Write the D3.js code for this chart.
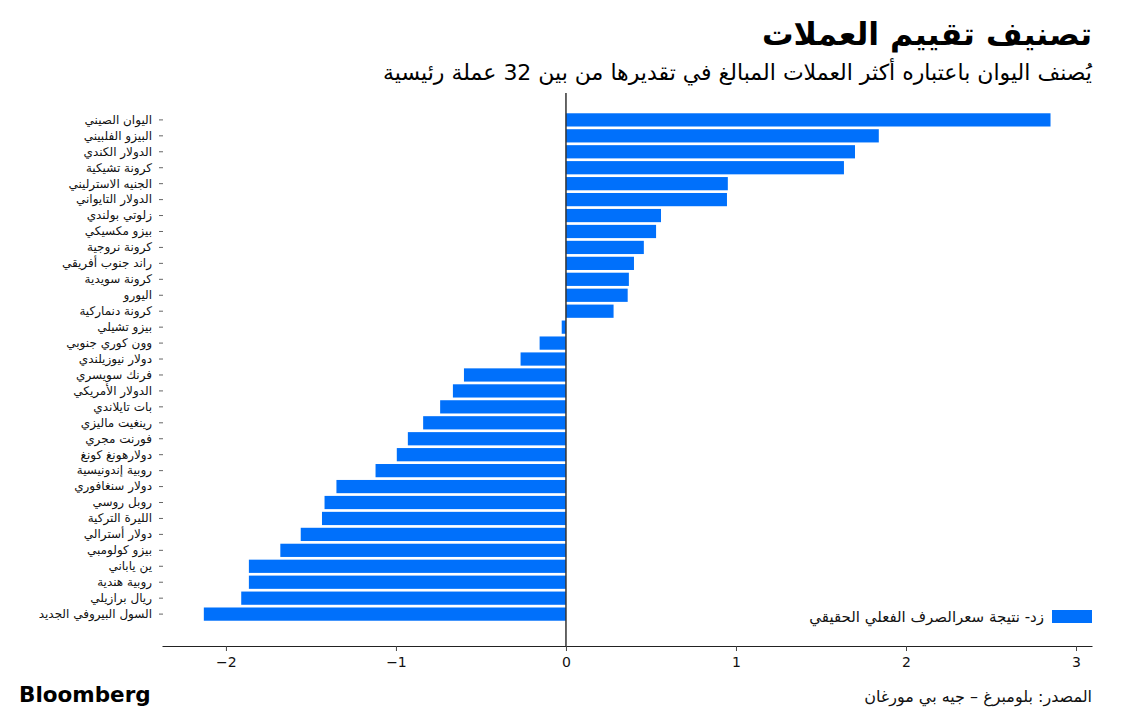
<!DOCTYPE html>
<html lang="ar">
<head>
<meta charset="utf-8">
<script src="https://cdn.jsdelivr.net/npm/d3@7"></script>
<style>
  html, body { margin: 0; padding: 0; background: #fff; }
  svg { display: block; }
  text { font-family: "DejaVu Sans", "Noto Sans", sans-serif; }
</style>
</head>
<body>
<svg id="chart" width="1132" height="716"></svg>
<script>
const categories = [
  "اليوان الصيني", "البيزو الفلبيني", "الدولار الكندي", "كرونة تشيكية",
  "الجنيه الاسترليني", "الدولار التايواني", "زلوتي بولندي", "بيزو مكسيكي",
  "كرونة نروجية", "راند جنوب أفريقي", "كرونة سويدية", "اليورو",
  "كرونة دنماركية", "بيزو تشيلي", "وون كوري جنوبي", "دولار نيوزيلندي",
  "فرنك سويسري", "الدولار الأمريكي", "بات تايلاندي", "رينغيت ماليزي",
  "فورنت مجري", "دولارهونغ كونغ", "روبية إندونيسية", "دولار سنغافوري",
  "روبل روسي", "الليرة التركية", "دولار أسترالي", "بيزو كولومبي",
  "ين ياباني", "روبية هندية", "ريال برازيلي", "السول البيروفي الجديد"
];
const values = [
  2.85, 1.84, 1.70, 1.635,
  0.952, 0.947, 0.559, 0.53,
  0.458, 0.40, 0.37, 0.363,
  0.28, -0.025, -0.155, -0.267,
  -0.60, -0.665, -0.74, -0.84,
  -0.93, -0.995, -1.12, -1.35,
  -1.42, -1.435, -1.56, -1.68,
  -1.865, -1.865, -1.91, -2.13
];
const xTicks = [-2, -1, 0, 1, 2, 3];
const title = "تصنيف تقييم العملات";
const subtitle = "يُصنف اليوان باعتباره أكثر العملات المبالغ في تقديرها من بين 32 عملة رئيسية";
const legendLabel = "زد- نتيجة سعرالصرف الفعلي الحقيقي";
const source = "المصدر: بلومبرغ – جيه بي مورغان";
const brand = "Bloomberg";

const data = categories.map((c, i) => ({ name: c, value: values[i] }));
const svg = d3.select("#chart");
const blue = "#0070fb";

const x = d3.scaleLinear().domain([-2.376, 3.094]).range([162, 1092]);
const y = d3.scaleBand().domain(categories).range([112, 622]).paddingInner(0.17).paddingOuter(0.08);

// bars
svg.append("g").selectAll("rect").data(data).join("rect")
  .attr("x", d => x(Math.min(0, d.value)))
  .attr("y", d => y(d.name))
  .attr("width", d => Math.abs(x(d.value) - x(0)))
  .attr("height", y.bandwidth())
  .attr("fill", blue);

// zero line
svg.append("line")
  .attr("x1", x(0)).attr("x2", x(0))
  .attr("y1", 93).attr("y2", 646)
  .attr("stroke", "#333").attr("stroke-width", 1.5);

// x axis
const xAxis = svg.append("g").attr("transform", "translate(0,646)")
  .call(d3.axisBottom(x).tickValues(xTicks).tickFormat(d3.format("d")).tickSize(5).tickSizeOuter(0));
xAxis.select(".domain").attr("stroke", "#222");
xAxis.selectAll(".tick line").attr("stroke", "#444");
xAxis.selectAll(".tick text").attr("font-size", 14).attr("fill", "#111")
  .attr("font-family", "'Liberation Sans Narrow', 'Roboto', sans-serif").attr("dy", "0.9em");

// y axis labels
const yAxis = svg.append("g").attr("transform", "translate(163,0)")
  .call(d3.axisLeft(y).tickSize(4).tickPadding(7));
yAxis.select(".domain").remove();
yAxis.selectAll(".tick line").attr("stroke", "#666");
yAxis.selectAll(".tick text").attr("font-size", 12).attr("fill", "#111")
  .attr("font-family", "'DejaVu Sans', sans-serif").attr("direction", "rtl")
  .attr("text-anchor", "start");

// title
svg.append("text").attr("x", 1092).attr("y", 45)
  .attr("text-anchor", "start").attr("direction", "rtl")
  .attr("font-size", 31.5).attr("font-weight", 900).attr("fill", "#000")
  .text(title);
svg.append("text").attr("x", 1092).attr("y", 80)
  .attr("text-anchor", "start").attr("direction", "rtl")
  .attr("font-size", 22).attr("fill", "#000")
  .text(subtitle);

// legend
svg.append("rect").attr("x", 1052).attr("y", 610).attr("width", 40).attr("height", 13).attr("fill", blue);
svg.append("text").attr("x", 1044).attr("y", 622)
  .attr("text-anchor", "start").attr("direction", "rtl")
  .attr("font-size", 15).attr("fill", "#111")
  .text(legendLabel);

// footer
svg.append("text").attr("x", 19).attr("y", 702)
  .attr("font-size", 21.5).attr("font-weight", 700).attr("fill", "#000")
  .attr("font-family", "'Liberation Sans', Arial, sans-serif")
  .text(brand);
svg.append("text").attr("x", 1092).attr("y", 702)
  .attr("text-anchor", "start").attr("direction", "rtl")
  .attr("font-size", 16).attr("fill", "#111")
  .text(source);
</script>
</body>
</html>
